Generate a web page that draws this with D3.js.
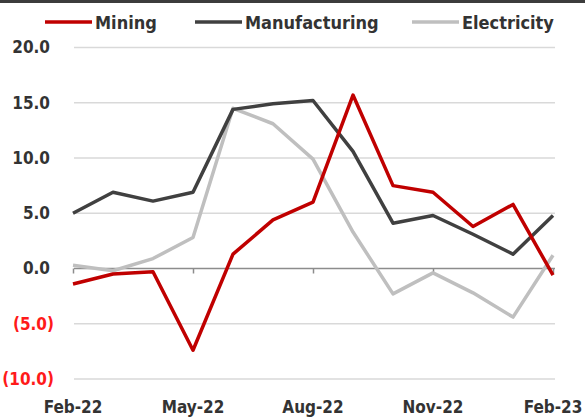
<!DOCTYPE html>
<html>
<head>
<meta charset="utf-8">
<script src="https://cdn.jsdelivr.net/npm/d3@7"></script>
<style>
  html, body { margin: 0; padding: 0; background: #fff; }
  svg { display: block; }
  text { font-family: "Liberation Sans Narrow", "DejaVu Sans Condensed", "Liberation Sans", sans-serif; font-weight: bold; }
</style>
</head>
<body>
<div id="chart"></div>
<script>
const months = ["Feb-22", "Mar-22", "Apr-22", "May-22", "Jun-22", "Jul-22", "Aug-22",
  "Sep-22", "Oct-22", "Nov-22", "Dec-22", "Jan-23", "Feb-23"];
const tickLabels = ["Feb-22", "May-22", "Aug-22", "Nov-22", "Feb-23"];
const yTicks = [-10, -5, 0, 5, 10, 15, 20];

const mining = [-1.4, -0.5, -0.3, -7.4, 1.3, 4.4, 6.0, 15.7, 7.5, 6.9, 3.8, 5.8, -0.6];
const manufacturing = [5.0, 6.9, 6.1, 6.9, 14.4, 14.9, 15.2, 10.6, 4.1, 4.8, 3.1, 1.3, 4.8];
const electricity = [0.3, -0.2, 0.9, 2.8, 14.5, 13.1, 9.9, 3.3, -2.3, -0.4, -2.2, -4.4, 1.2];

const seriesNames = ["Mining", "Manufacturing", "Electricity"];

/** Chart props */
const props = {};
props.width = 585;
props.height = 417;
props.plot = { left: 74, right: 555, top: 47.5, bottom: 379 };
props.colors = { Mining: "#c00000", Manufacturing: "#404040", Electricity: "#bfbfbf" };

const series = [
  { name: "Mining", values: mining },
  { name: "Manufacturing", values: manufacturing },
  { name: "Electricity", values: electricity }
];

const svg = d3.select("#chart")
  .append("svg")
  .attr("width", props.width)
  .attr("height", props.height);

// dark band along the top edge
svg.append("rect")
  .attr("x", 0).attr("y", 0)
  .attr("width", props.width).attr("height", 3)
  .attr("fill", "#3c3c3c");

const x = d3.scalePoint()
  .domain(months)
  .range([73, 553]);

const y = d3.scaleLinear()
  .domain([-10, 20])
  .range([props.plot.bottom, props.plot.top]);

/** Gridlines */
svg.append("g")
  .attr("class", "grid")
  .selectAll("line")
  .data(yTicks.filter(d => d !== 0))
  .enter()
  .append("line")
  .attr("x1", props.plot.left)
  .attr("x2", props.plot.right)
  .attr("y1", d => y(d))
  .attr("y2", d => y(d))
  .attr("stroke", "#d9d9d9")
  .attr("stroke-width", 1.5);

/** Y axis labels */
const yAxis = d3.axisLeft(y)
  .tickValues(yTicks)
  .tickSize(0)
  .tickPadding(0)
  .tickFormat(d => d < 0 ? "(" + d3.format(".1f")(-d) + ")" : d3.format(".1f")(d));

const yG = svg.append("g")
  .attr("transform", "translate(50,0)")
  .call(yAxis);
yG.select("path.domain").remove();
yG.selectAll("text")
  .attr("font-size", 17)
  .attr("x", d => d < 0 ? 4 : 0)
  .attr("fill", d => d < 0 ? "#ff1a1a" : "#333");

/** X axis on the zero line */
const xAxis = d3.axisBottom(x)
  .tickValues(tickLabels)
  .tickSize(5)
  .tickFormat("");

const xG = svg.append("g")
  .attr("transform", "translate(0," + y(0) + ")")
  .call(xAxis);
xG.select("path.domain")
  .attr("d", "M" + props.plot.left + ",0H" + props.plot.right)
  .attr("stroke", "#8c8c8c")
  .attr("stroke-width", 1.5);
xG.selectAll(".tick line")
  .attr("stroke", "#8c8c8c")
  .attr("stroke-width", 1.5);

/** Category labels at the bottom */
svg.append("g")
  .selectAll("text")
  .data(tickLabels)
  .enter()
  .append("text")
  .attr("x", d => x(d))
  .attr("y", 413)
  .attr("text-anchor", "middle")
  .attr("font-size", 17)
  .attr("fill", "#333")
  .text(d => d);

/** Lines */
const line = d3.line()
  .x((d, i) => x(months[i]))
  .y(d => y(d));

svg.append("g")
  .selectAll("path")
  .data(series.slice().reverse())
  .enter()
  .append("path")
  .attr("d", d => line(d.values))
  .attr("fill", "none")
  .attr("stroke", d => props.colors[d.name])
  .attr("stroke-width", 3.5)
  .attr("stroke-linejoin", "round");

/** Legend */
const legendX = { Mining: 45, Manufacturing: 195, Electricity: 412 };
const legend = svg.append("g").attr("id", "legend");
const items = legend.selectAll("g")
  .data(seriesNames)
  .enter()
  .append("g")
  .attr("transform", d => "translate(" + legendX[d] + ",22)");
items.append("line")
  .attr("x1", 0).attr("x2", 47)
  .attr("y1", 0).attr("y2", 0)
  .attr("stroke", d => props.colors[d])
  .attr("stroke-width", 3.5);
items.append("text")
  .attr("x", 50)
  .attr("y", 7)
  .attr("font-size", 18)
  .attr("fill", "#333")
  .text(d => d);
</script>
</body>
</html>
